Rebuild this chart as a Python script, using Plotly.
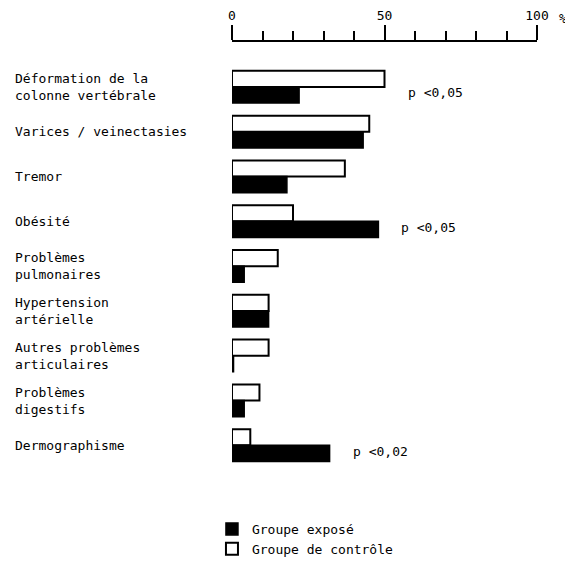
import plotly.graph_objects as go

categories = [
    "Déformation de la<br>colonne vertébrale",
    "Varices / veinectasies",
    "Tremor",
    "Obésité",
    "Problèmes<br>pulmonaires",
    "Hypertension<br>artérielle",
    "Autres problèmes<br>articulaires",
    "Problèmes<br>digestifs",
    "Dermographisme",
]
control = [50, 45, 37, 20, 15, 12, 12, 9, 6]      # Groupe de contrôle (%)
exposed = [22, 43, 18, 48, 4, 12, 0.5, 4, 32]     # Groupe exposé (%)
pvalues = ["p <0,05", "", "", "p <0,05", "", "", "", "", "p <0,02"]
ticks_major = [0, 50, 100]

FONT = "DejaVu Sans Mono"
pos = list(range(len(categories)))

fig = go.Figure()
fig.add_trace(go.Bar(
    y=pos, x=control, orientation="h", name="Groupe de contrôle",
    marker=dict(color="white", line=dict(color="black", width=2)),
    legendrank=2, cliponaxis=False, hoverinfo="x",
))
fig.add_trace(go.Bar(
    y=pos, x=exposed, orientation="h", name="Groupe exposé",
    marker=dict(color="black", line=dict(color="black", width=1.5)),
    legendrank=1, cliponaxis=False, hoverinfo="x",
))

annotations = []
for i, lab in enumerate(categories):
    annotations.append(dict(
        text=lab, xref="paper", x=-0.718, xanchor="left",
        yref="y", y=i, yanchor="middle", align="left", showarrow=False,
        font=dict(family=FONT, size=13, color="black"),
    ))
for i, p in enumerate(pvalues):
    if p:
        annotations.append(dict(
            text=p, xref="x", x=max(control[i], exposed[i]), xanchor="left",
            xshift=21, yref="y", y=i, yanchor="middle", yshift=-6,
            showarrow=False, font=dict(family=FONT, size=13, color="black"),
        ))
annotations.append(dict(
    text="%", xref="paper", x=1, xanchor="left", xshift=20,
    yref="paper", y=1, yanchor="middle", yshift=24, showarrow=False,
    font=dict(family=FONT, size=13, color="black"),
))

fig.update_layout(
    width=565, height=559, autosize=False,
    margin=dict(l=224, r=36, t=34, b=50, autoexpand=False),
    paper_bgcolor="white", plot_bgcolor="white",
    barmode="group", bargap=0.28, bargroupgap=0,
    font=dict(family=FONT, size=13, color="black"),
    annotations=annotations,
    legend=dict(
        xref="container", x=0.361, xanchor="left",
        yref="container", y=0.0948, yanchor="top",
        font=dict(family=FONT, size=13, color="black"),
        bgcolor="rgba(0,0,0,0)", tracegroupgap=0,
    ),
    xaxis=dict(
        side="top", range=[0, 100], tick0=0, dtick=50,
        tickvals=ticks_major, ticktext=[str(t) for t in ticks_major],
        ticks="outside", ticklen=15, tickwidth=2, tickcolor="black",
        showline=True, linewidth=2, linecolor="black",
        showgrid=False, zeroline=False,
        tickfont=dict(family=FONT, size=13, color="black"),
        minor=dict(tickmode="linear", tick0=0, dtick=10, ticks="outside",
                   ticklen=9, tickwidth=2, tickcolor="black", showgrid=False),
    ),
    yaxis=dict(
        range=[9.6, -1.004], showticklabels=False, showgrid=False,
        zeroline=False, showline=False, ticks="",
    ),
)

fig.write_html("out.html")
